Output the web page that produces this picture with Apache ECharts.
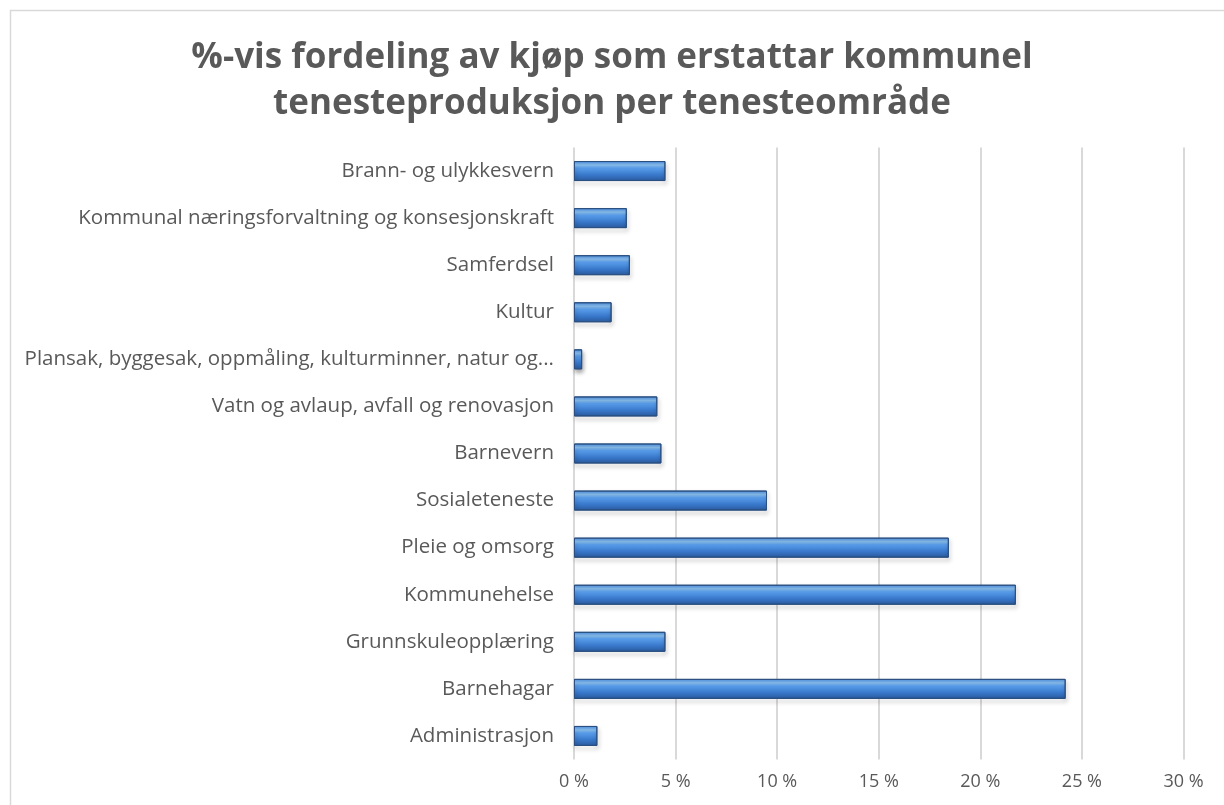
<!DOCTYPE html>
<html>
<head>
<meta charset="utf-8">
<script src="https://cdn.jsdelivr.net/npm/echarts@6/dist/echarts.min.js"></script>
<style>
  html, body { margin: 0; padding: 0; background: #fff; }
  #chart { width: 1224px; height: 805px; }
</style>
</head>
<body>
<div id="chart"></div>
<script>
// kategoriar, øvst til nedst
const categories = [
  'Brann- og ulykkesvern',
  'Kommunal næringsforvaltning og konsesjonskraft',
  'Samferdsel',
  'Kultur',
  'Plansak, byggesak, oppmåling, kulturminner, natur og...',
  'Vatn og avlaup, avfall og renovasjon',
  'Barnevern',
  'Sosialeteneste',
  'Pleie og omsorg',
  'Kommunehelse',
  'Grunnskuleopplæring',
  'Barnehagar',
  'Administrasjon'
]
// prosentdel
const shares = [4.5, 2.6, 2.75, 1.85, 0.4, 4.1, 4.3, 9.5, 18.45, 21.75, 4.5, 24.2, 1.15]
const tickLabels = ['0 %', '5 %', '10 %', '15 %', '20 %', '25 %', '30 %']

const chart = echarts.init(document.getElementById('chart'))
chart.setOption({
  backgroundColor: '#fff',
  textStyle: { fontFamily: 'Open Sans' },
  title: {
    text: '%-vis fordeling av kjøp som erstattar kommunel\ntenesteproduksjon per tenesteområde',
    left: 'center',
    top: 30,
    textStyle: {
      color: '#595959',
      fontSize: 35,
      fontWeight: 'bold',
      fontFamily: 'Open Sans',
      lineHeight: 46
    }
  },
  graphic: [
    {
      type: 'rect',
      shape: { x: 10.5, y: 10.5, width: 1230, height: 820 },
      style: { fill: 'none', stroke: '#d9d9d9', lineWidth: 1.5 },
      silent: true
    }
  ],
  grid: {
    left: 574,
    right: 40.5,
    top: 147.5,
    bottom: 45.5
  },
  xAxis: {
    type: 'value',
    min: 0,
    max: 30,
    interval: 5,
    axisLine: { show: false },
    axisTick: { show: false },
    splitLine: { lineStyle: { color: '#d9d9d9', width: 2 } },
    axisLabel: {
      color: '#595959',
      fontSize: 18,
      margin: 13,
      formatter: (v) => tickLabels[Math.round(v / 5)]
    }
  },
  yAxis: {
    type: 'category',
    inverse: true,
    data: categories,
    axisLine: { show: false },
    axisTick: { show: false },
    axisLabel: {
      color: '#595959',
      fontSize: 20.5,
      margin: 20
    }
  },
  series: [
    {
      type: 'bar',
      data: shares,
      barWidth: 20,
      itemStyle: {
        color: new echarts.graphic.LinearGradient(0, 0, 0, 1, [
          { offset: 0, color: '#4a8ee4' },
          { offset: 0.2, color: '#8ec6f7' },
          { offset: 0.35, color: '#5a9eec' },
          { offset: 0.7, color: '#3877ca' },
          { offset: 1, color: '#2a5a9c' }
        ]),
        borderColor: '#2a4f80',
        borderWidth: 1,
        shadowColor: 'rgba(0,0,0,0.35)',
        shadowBlur: 4,
        shadowOffsetX: 1,
        shadowOffsetY: 3
      }
    }
  ]
})
</script>
</body>
</html>
